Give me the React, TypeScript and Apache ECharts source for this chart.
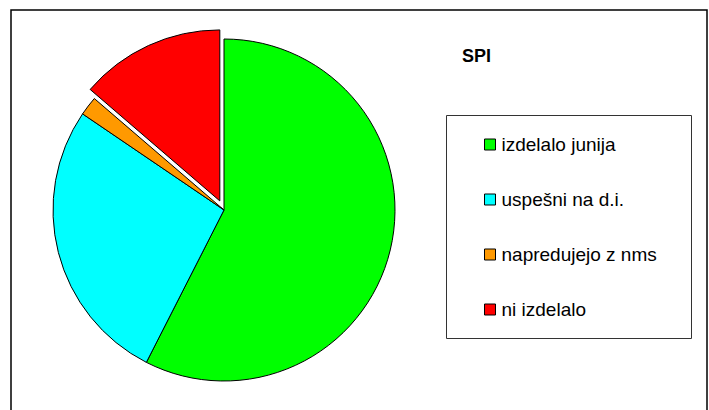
import React, { useEffect, useRef } from "react";
import * as echarts from "echarts";

const titleText = "SPI";
const categories = ["izdelalo junija", "uspešni na d.i.", "napredujejo z nms", "ni izdelalo"];
const values = [57.5, 27.0, 1.8, 13.7];
const colors = ["#00FF00", "#00FFFF", "#FF9900", "#FF0000"];
const exploded = [false, false, false, true];

export default function App() {
  const ref = useRef<HTMLDivElement>(null);
  useEffect(() => {
    if (!ref.current) return;
    const chart = echarts.init(ref.current, null, { renderer: "svg" });
    chart.setOption({
      animation: false,
      backgroundColor: "#ffffff",
      title: {
        text: titleText,
        left: 462,
        top: 47,
        textStyle: { fontFamily: "Liberation Sans, Arial, sans-serif", fontSize: 18, fontWeight: "bold", color: "#000" },
        padding: 0,
      },
      legend: {
        orient: "vertical",
        left: 484,
        top: 135,
        itemWidth: 11,
        itemHeight: 11,
        itemGap: 36,
        icon: "rect",
        selectedMode: false,
        padding: 0,
        data: categories,
        textStyle: { fontFamily: "Liberation Sans, Arial, sans-serif", fontSize: 19, lineHeight: 19, color: "#000", padding: [0, 0, 0, 1] },
        itemStyle: { borderColor: "#000", borderWidth: 1 },
      },
      graphic: [
        {
          type: "rect",
          shape: { x: 11, y: 10, width: 696, height: 430 },
          style: { fill: "none", stroke: "#000", lineWidth: 1.5 },
          silent: true,
          z: 0,
        },
        {
          type: "rect",
          shape: { x: 446.5, y: 115.5, width: 245, height: 223 },
          style: { fill: "none", stroke: "#333", lineWidth: 1 },
          silent: true,
          z: 0,
        },
      ],
      series: [
        {
          type: "pie",
          center: [224, 210],
          radius: 171,
          startAngle: 90,
          clockwise: true,
          selectedMode: "single",
          selectedOffset: 10,
          avoidLabelOverlap: false,
          label: { show: false },
          labelLine: { show: false },
          emphasis: { scale: false },
          itemStyle: { borderColor: "#000", borderWidth: 1 },
          select: { itemStyle: { borderColor: "#000", borderWidth: 1 } },
          data: categories.map((name, i) => ({
            name,
            value: values[i],
            selected: exploded[i],
            itemStyle: { color: colors[i] },
          })),
        },
      ],
    });
    return () => chart.dispose();
  }, []);
  return <div ref={ref} style={{ position: "fixed", left: 0, top: 0, width: 709, height: 410 }} />;
}
